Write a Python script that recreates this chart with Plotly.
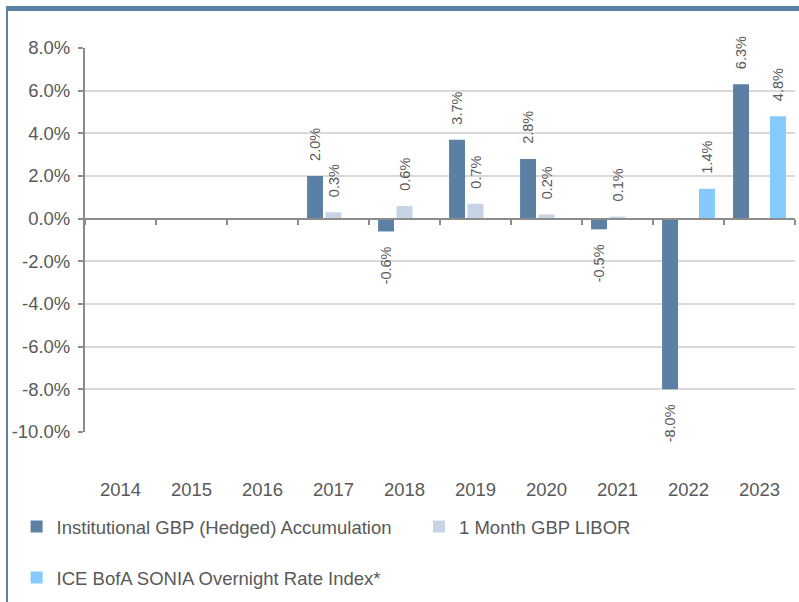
import plotly.graph_objects as go

years = ["2014", "2015", "2016", "2017", "2018", "2019", "2020", "2021", "2022", "2023"]
inst_values = [None, None, None, 2.0, -0.6, 3.7, 2.8, -0.5, -8.0, 6.3]
libor_values = [None, None, None, 0.3, 0.6, 0.7, 0.2, 0.1, None, None]
sonia_values = [None, None, None, None, None, None, None, None, 1.4, 4.8]
y_ticks = [-10, -8, -6, -4, -2, 0, 2, 4, 6, 8]
y_tick_labels = [f"{v:.1f}%" for v in y_ticks]

series_names = ["Institutional GBP (Hedged) Accumulation", "1 Month GBP LIBOR",
                "ICE BofA SONIA Overnight Rate Index*"]
colors = ["#5C80A4", "#C6D4E5", "#86CAFD"]

GREY = "#595959"
PAD = "\u00a0" * 3
FS = 18.5


def labels(vals):
    out = []
    for v in vals:
        if v is None:
            out.append("")
        elif v >= 0:
            out.append(PAD + f"{v:.1f}%")
        else:
            out.append(f"{v:.1f}%" + PAD)
    return out


fig = go.Figure()
for name, vals, col, lg in zip(series_names, [inst_values, libor_values, sonia_values], colors,
                               ["legend", "legend2", "legend3"]):
    fig.add_trace(go.Bar(
        x=years, y=vals, name=name, marker=dict(color=col, line=dict(width=0)),
        text=labels(vals), textposition="outside", textangle=-90,
        textfont=dict(size=14.5, color=GREY, family="Arial"),
        cliponaxis=False, constraintext="none", legend=lg,
    ))

# invisible trace for the zero-line axis with boundary ticks
fig.add_trace(go.Bar(x=years, y=[None] * len(years), xaxis="x2", showlegend=False,
                     hoverinfo="skip", marker=dict(color="rgba(0,0,0,0)")))

W, H = 799, 602
L, R, T, B = 85, 4, 48, 170
PW, PH = W - L - R, H - T - B


def px_x(p):
    return (p - L) / PW


def px_y(p):
    return (H - B - p) / PH


leg_common = dict(orientation="h", xanchor="left", yanchor="middle",
                  font=dict(size=FS, color=GREY), bgcolor="rgba(0,0,0,0)")

fig.update_layout(
    width=W, height=H,
    margin=dict(l=L, r=R, t=T, b=B),
    paper_bgcolor="white", plot_bgcolor="white",
    barmode="group", bargap=0.22, bargroupgap=0.135,
    font=dict(family="Arial", color=GREY, size=FS),
    xaxis=dict(range=[-0.5, 9.5], showline=False, showgrid=False, ticks="",
               tickfont=dict(size=FS, color=GREY), ticklabelstandoff=44, automargin=False),
    xaxis2=dict(overlaying="x", anchor="free", position=10 / 18, range=[-0.5, 9.5],
                showline=True, linecolor="#8C8C8C", linewidth=2, ticks="outside",
                tickson="boundaries", ticklen=5, tickcolor="#8C8C8C", tickwidth=2,
                showticklabels=False, showgrid=False),
    yaxis=dict(range=[-10, 8], tickvals=y_ticks, ticktext=y_tick_labels,
               showline=True, linecolor="#8C8C8C", linewidth=2, ticks="outside",
               ticklen=5, tickcolor="#8C8C8C", tickwidth=2,
               showgrid=True, gridcolor="#D9D9D9", gridwidth=1.5, zeroline=False,
               tickfont=dict(size=FS, color=GREY), ticklabelstandoff=4, automargin=False),
    legend=dict(x=px_x(16.6), y=px_y(527), **leg_common),
    legend2=dict(x=px_x(419), y=px_y(527), **leg_common),
    legend3=dict(x=px_x(16.6), y=px_y(578), **leg_common),
    shapes=[
        dict(type="line", xref="paper", yref="paper", x0=px_x(6), x1=px_x(800),
             y0=px_y(8.5), y1=px_y(8.5), line=dict(color="#5C80A4", width=5)),
        dict(type="line", xref="paper", yref="paper", x0=px_x(7), x1=px_x(7),
             y0=px_y(8.5), y1=px_y(610), line=dict(color="#5C80A4", width=2)),
    ],
    showlegend=True,
)

fig.write_html("out.html", config={"displayModeBar": False},
               post_script="document.body.style.margin='0';")
